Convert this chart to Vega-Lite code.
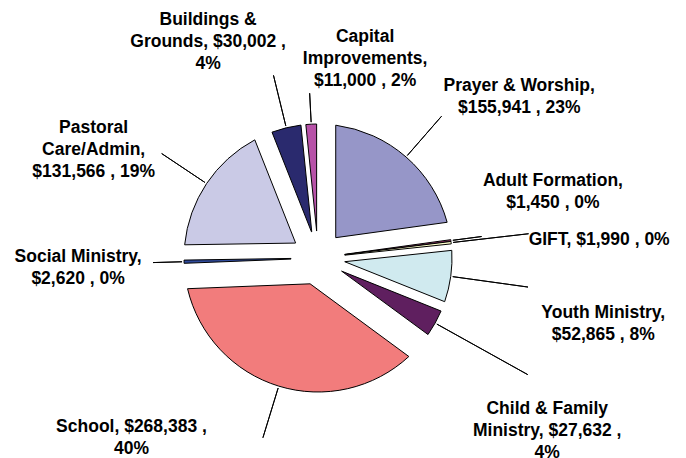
{
  "$schema": "https://vega.github.io/schema/vega-lite/v6.json",
  "width": 636,
  "height": 400,
  "autosize": {"type": "none"},
  "padding": {"left": 0, "top": 58, "right": 50, "bottom": 0},
  "background": "white",
  "config": {"view": {"stroke": null}},
  "data": {
    "values": [
      {"idx": 1, "category": "Prayer & Worship", "amount": 155941, "label": "Prayer & Worship,\n$155,941 , 23%"},
      {"idx": 2, "category": "Adult Formation", "amount": 1450, "label": "Adult Formation,\n$1,450 , 0%"},
      {"idx": 3, "category": "GIFT", "amount": 1990, "label": "GIFT, $1,990 , 0%"},
      {"idx": 4, "category": "Youth Ministry", "amount": 52865, "label": "Youth Ministry,\n$52,865 , 8%"},
      {"idx": 5, "category": "Child & Family Ministry", "amount": 27632, "label": "Child & Family\nMinistry, $27,632 ,\n4%"},
      {"idx": 6, "category": "School", "amount": 268383, "label": "School, $268,383 ,\n40%"},
      {"idx": 7, "category": "Social Ministry", "amount": 2620, "label": "Social Ministry,\n$2,620 , 0%"},
      {"idx": 8, "category": "Pastoral Care/Admin", "amount": 131566, "label": "Pastoral\nCare/Admin,\n$131,566 , 19%"},
      {"idx": 9, "category": "Buildings & Grounds", "amount": 30002, "label": "Buildings &\nGrounds, $30,002 ,\n4%"},
      {"idx": 10, "category": "Capital Improvements", "amount": 11000, "label": "Capital\nImprovements,\n$11,000 , 2%"}
    ]
  },
  "encoding": {
    "theta": {"field": "amount", "type": "quantitative", "stack": true},
    "order": {"field": "idx", "type": "quantitative"}
  },
  "layer": [
    {
      "mark": {"type": "arc", "innerRadius": 27, "outerRadius": 134, "padAngle": 0.26, "stroke": "#000", "strokeWidth": 1},
      "encoding": {
        "color": {"field": "category", "type": "nominal", "legend": null,
          "scale": {"domain": ["Prayer & Worship", "Adult Formation", "GIFT", "Youth Ministry", "Child & Family Ministry", "School", "Social Ministry", "Pastoral Care/Admin", "Buildings & Grounds", "Capital Improvements"],
                    "range": ["#9696C8", "#99336A", "#FFFFCC", "#D0EAEF", "#5F1F5F", "#F27C7C", "#2F4A9A", "#CACAE6", "#2A2A6E", "#B752A8"]}},
        "opacity": {"condition": {"test": "datum.category === 'Prayer & Worship'", "value": 1}, "value": 0}
      }
    },
    {
      "mark": {"type": "arc", "innerRadius": 27, "outerRadius": 134, "padAngle": 0.375, "stroke": "#000", "strokeWidth": 1},
      "encoding": {
        "color": {"field": "category", "type": "nominal", "legend": null},
        "opacity": {"condition": {"test": "datum.category === 'School'", "value": 1}, "value": 0}
      }
    },
    {
      "mark": {"type": "arc", "innerRadius": 27, "outerRadius": 134, "padAngle": 0.224, "stroke": "#000", "strokeWidth": 1},
      "encoding": {
        "color": {"field": "category", "type": "nominal", "legend": null},
        "opacity": {"condition": {"test": "datum.category === 'Pastoral Care/Admin'", "value": 1}, "value": 0}
      }
    },
    {
      "mark": {"type": "arc", "innerRadius": 27, "outerRadius": 134, "padAngle": 0.095, "stroke": "#000", "strokeWidth": 1},
      "encoding": {
        "color": {"field": "category", "type": "nominal", "legend": null},
        "opacity": {"condition": {"test": "datum.category === 'Youth Ministry'", "value": 1}, "value": 0}
      }
    },
    {
      "mark": {"type": "arc", "innerRadius": 27, "outerRadius": 134, "padAngle": 0.052, "stroke": "#000", "strokeWidth": 1},
      "encoding": {
        "color": {"field": "category", "type": "nominal", "legend": null},
        "opacity": {"condition": {"test": "indexof(['Child & Family Ministry', 'Buildings & Grounds'], datum.category) >= 0", "value": 1}, "value": 0}
      }
    },
    {
      "mark": {"type": "arc", "innerRadius": 27, "outerRadius": 134, "padAngle": 0.02, "stroke": "#000", "strokeWidth": 1},
      "encoding": {
        "color": {"field": "category", "type": "nominal", "legend": null},
        "opacity": {"condition": {"test": "datum.category === 'Capital Improvements'", "value": 1}, "value": 0}
      }
    },
    {
      "mark": {"type": "arc", "innerRadius": 27, "outerRadius": 134, "padAngle": 0, "stroke": "#000", "strokeWidth": 1},
      "encoding": {
        "color": {"field": "category", "type": "nominal", "legend": null},
        "opacity": {"condition": {"test": "indexof(['Adult Formation', 'GIFT', 'Social Ministry'], datum.category) >= 0", "value": 1}, "value": 0}
      }
    },
    {
      "mark": {"type": "arc", "innerRadius": 136, "outerRadius": 165, "padAngle": 3, "stroke": "#000", "strokeWidth": 1, "fillOpacity": 0},
      "encoding": {
        "detail": {"field": "category", "type": "nominal"},
        "opacity": {"condition": {"test": "indexof(['Capital Improvements', 'Adult Formation', 'Social Ministry'], datum.category) >= 0", "value": 1}, "value": 0}
      }
    },
    {
      "mark": {"type": "arc", "innerRadius": 136, "outerRadius": 188, "padAngle": 3, "stroke": "#000", "strokeWidth": 1, "fillOpacity": 0},
      "encoding": {
        "detail": {"field": "category", "type": "nominal"},
        "opacity": {"condition": {"test": "indexof(['School', 'Pastoral Care/Admin', 'Prayer & Worship', 'Buildings & Grounds'], datum.category) >= 0", "value": 1}, "value": 0}
      }
    },
    {
      "mark": {"type": "arc", "innerRadius": 136, "outerRadius": 212, "padAngle": 3, "stroke": "#000", "strokeWidth": 1, "fillOpacity": 0},
      "encoding": {
        "detail": {"field": "category", "type": "nominal"},
        "opacity": {"condition": {"test": "indexof(['GIFT', 'Youth Ministry'], datum.category) >= 0", "value": 1}, "value": 0}
      }
    },
    {
      "mark": {"type": "arc", "innerRadius": 136, "outerRadius": 240, "padAngle": 3, "stroke": "#000", "strokeWidth": 1, "fillOpacity": 0},
      "encoding": {
        "detail": {"field": "category", "type": "nominal"},
        "opacity": {"condition": {"test": "datum.category === 'Child & Family Ministry'", "value": 1}, "value": 0}
      }
    },
    {
      "mark": {"type": "text", "radius": 253, "dx": 35, "dy": 19, "align": "center", "baseline": "middle", "lineBreak": "\n", "font": "Liberation Sans", "fontWeight": "bold", "fontSize": 17.5, "lineHeight": 22, "color": "#000"},
      "encoding": {"detail": {"field": "category", "type": "nominal"},
        "text": {"condition": {"test": "datum.category === 'Prayer & Worship'", "field": "label", "type": "nominal"}, "value": ""}}
    },
    {
      "mark": {"type": "text", "radius": 242, "dx": -5, "dy": -46, "align": "center", "baseline": "middle", "lineBreak": "\n", "font": "Liberation Sans", "fontWeight": "bold", "fontSize": 17.5, "lineHeight": 22, "color": "#000"},
      "encoding": {"detail": {"field": "category", "type": "nominal"},
        "text": {"condition": {"test": "datum.category === 'Adult Formation'", "field": "label", "type": "nominal"}, "value": ""}}
    },
    {
      "mark": {"type": "text", "radius": 281, "dx": 2, "dy": 14, "align": "center", "baseline": "middle", "lineBreak": "\n", "font": "Liberation Sans", "fontWeight": "bold", "fontSize": 17.5, "lineHeight": 22, "color": "#000"},
      "encoding": {"detail": {"field": "category", "type": "nominal"},
        "text": {"condition": {"test": "datum.category === 'GIFT'", "field": "label", "type": "nominal"}, "value": ""}}
    },
    {
      "mark": {"type": "text", "radius": 292, "dx": -4, "dy": 15, "align": "center", "baseline": "middle", "lineBreak": "\n", "font": "Liberation Sans", "fontWeight": "bold", "fontSize": 17.5, "lineHeight": 22, "color": "#000"},
      "encoding": {"detail": {"field": "category", "type": "nominal"},
        "text": {"condition": {"test": "datum.category === 'Youth Ministry'", "field": "label", "type": "nominal"}, "value": ""}}
    },
    {
      "mark": {"type": "text", "radius": 284, "dx": -19, "dy": 13, "align": "center", "baseline": "middle", "lineBreak": "\n", "font": "Liberation Sans", "fontWeight": "bold", "fontSize": 17.5, "lineHeight": 22, "color": "#000"},
      "encoding": {"detail": {"field": "category", "type": "nominal"},
        "text": {"condition": {"test": "datum.category === 'Child & Family Ministry'", "field": "label", "type": "nominal"}, "value": ""}}
    },
    {
      "mark": {"type": "text", "radius": 227, "dx": -120, "dy": -48, "align": "center", "baseline": "middle", "lineBreak": "\n", "font": "Liberation Sans", "fontWeight": "bold", "fontSize": 17.5, "lineHeight": 22, "color": "#000"},
      "encoding": {"detail": {"field": "category", "type": "nominal"},
        "text": {"condition": {"test": "datum.category === 'School'", "field": "label", "type": "nominal"}, "value": ""}}
    },
    {
      "mark": {"type": "text", "radius": 240, "dx": 0, "dy": -8, "align": "center", "baseline": "middle", "lineBreak": "\n", "font": "Liberation Sans", "fontWeight": "bold", "fontSize": 17.5, "lineHeight": 22, "color": "#000"},
      "encoding": {"detail": {"field": "category", "type": "nominal"},
        "text": {"condition": {"test": "datum.category === 'Social Ministry'", "field": "label", "type": "nominal"}, "value": ""}}
    },
    {
      "mark": {"type": "text", "radius": 247, "dx": -19, "dy": 7, "align": "center", "baseline": "middle", "lineBreak": "\n", "font": "Liberation Sans", "fontWeight": "bold", "fontSize": 17.5, "lineHeight": 22, "color": "#000"},
      "encoding": {"detail": {"field": "category", "type": "nominal"},
        "text": {"condition": {"test": "datum.category === 'Pastoral Care/Admin'", "field": "label", "type": "nominal"}, "value": ""}}
    },
    {
      "mark": {"type": "text", "radius": 236, "dx": -54, "dy": -9, "align": "center", "baseline": "middle", "lineBreak": "\n", "font": "Liberation Sans", "fontWeight": "bold", "fontSize": 17.5, "lineHeight": 22, "color": "#000"},
      "encoding": {"detail": {"field": "category", "type": "nominal"},
        "text": {"condition": {"test": "datum.category === 'Buildings & Grounds'", "field": "label", "type": "nominal"}, "value": ""}}
    },
    {
      "mark": {"type": "text", "radius": 196, "dx": 57, "dy": -25, "align": "center", "baseline": "middle", "lineBreak": "\n", "font": "Liberation Sans", "fontWeight": "bold", "fontSize": 17.5, "lineHeight": 22, "color": "#000"},
      "encoding": {"detail": {"field": "category", "type": "nominal"},
        "text": {"condition": {"test": "datum.category === 'Capital Improvements'", "field": "label", "type": "nominal"}, "value": ""}}
    }
  ]
}
